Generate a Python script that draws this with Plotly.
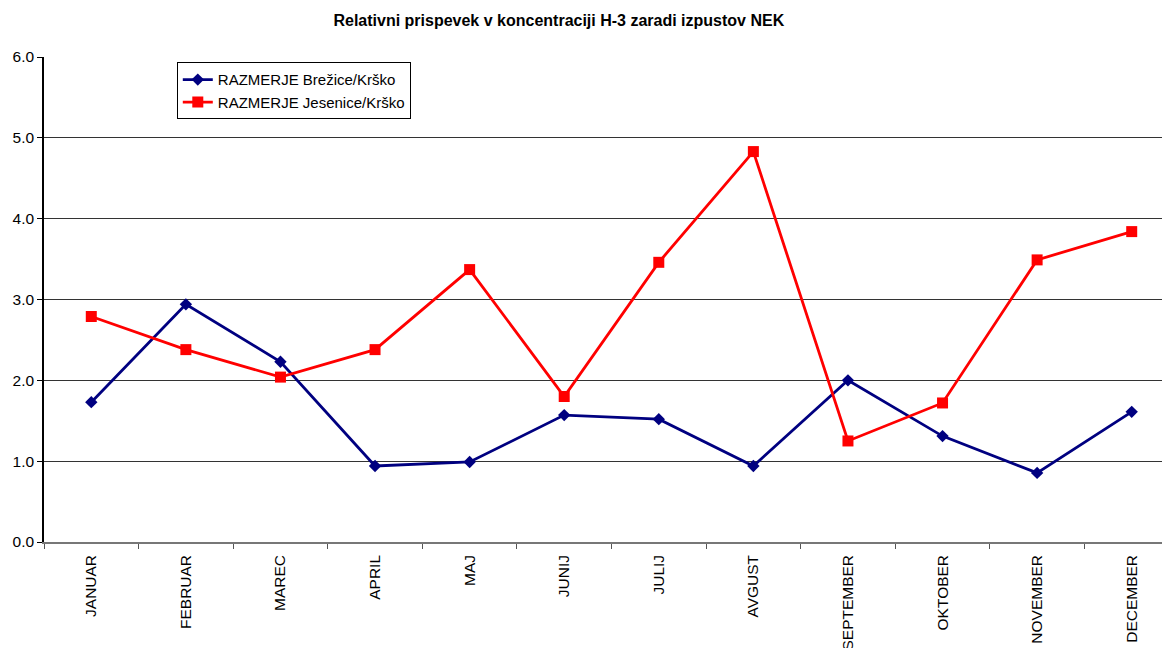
import plotly.graph_objects as go

months = ["JANUAR", "FEBRUAR", "MAREC", "APRIL", "MAJ", "JUNIJ", "JULIJ",
          "AVGUST", "SEPTEMBER", "OKTOBER", "NOVEMBER", "DECEMBER"]
brezice = [1.73, 2.94, 2.23, 0.94, 0.99, 1.57, 1.52, 0.94, 2.00, 1.31, 0.855, 1.61]
jesenice = [2.79, 2.38, 2.04, 2.38, 3.37, 1.80, 3.46, 4.83, 1.25, 1.72, 3.49, 3.84]
yticks = [0, 1, 2, 3, 4, 5, 6]

fig = go.Figure()
fig.add_trace(go.Scatter(
    x=months, y=brezice, mode="lines+markers",
    name="RAZMERJE Brežice/Krško",
    line=dict(color="#000080", width=2.8),
    marker=dict(symbol="diamond", size=9.5, color="#000080"),
))
fig.add_trace(go.Scatter(
    x=months, y=jesenice, mode="lines+markers",
    name="RAZMERJE Jesenice/Krško",
    line=dict(color="#FF0000", width=2.8),
    marker=dict(symbol="square", size=11, color="#FF0000"),
))

fig.update_layout(
    width=1172, height=648,
    margin=dict(l=36, r=1, t=49, b=114),
    paper_bgcolor="white", plot_bgcolor="white",
    font=dict(family="Liberation Sans, Arial, sans-serif", size=15, color="black"),
    title=dict(text="<b>Relativni prispevek v koncentraciji H-3 zaradi izpustov NEK</b>",
               x=0.470, xanchor="center", y=0.9815, yanchor="middle",
               font=dict(size=16)),
    showlegend=True,
    legend=dict(x=0.117, y=0.989, xanchor="left", yanchor="top",
                bgcolor="white", bordercolor="black", borderwidth=1,
                font=dict(size=15), tracegroupgap=0),
)
fig.update_xaxes(
    type="category", range=[-0.5, 11.5],
    tickson="boundaries", ticks="outside", ticklen=5, tickcolor="#555",
    tickangle=-90, showgrid=False, ticklabelstandoff=5,
    showline=True, linecolor="#777", linewidth=1.5,
    tickfont=dict(size=15.5),
)
fig.update_yaxes(
    range=[0, 6], tickvals=yticks, tickformat=".1f",
    ticks="outside", ticklen=5, tickcolor="black",
    showgrid=True, gridcolor="#333", gridwidth=1,
    showline=True, linecolor="black", linewidth=1.5,
    zeroline=False, tickfont=dict(size=15.5),
)

fig.write_html("out.html")
